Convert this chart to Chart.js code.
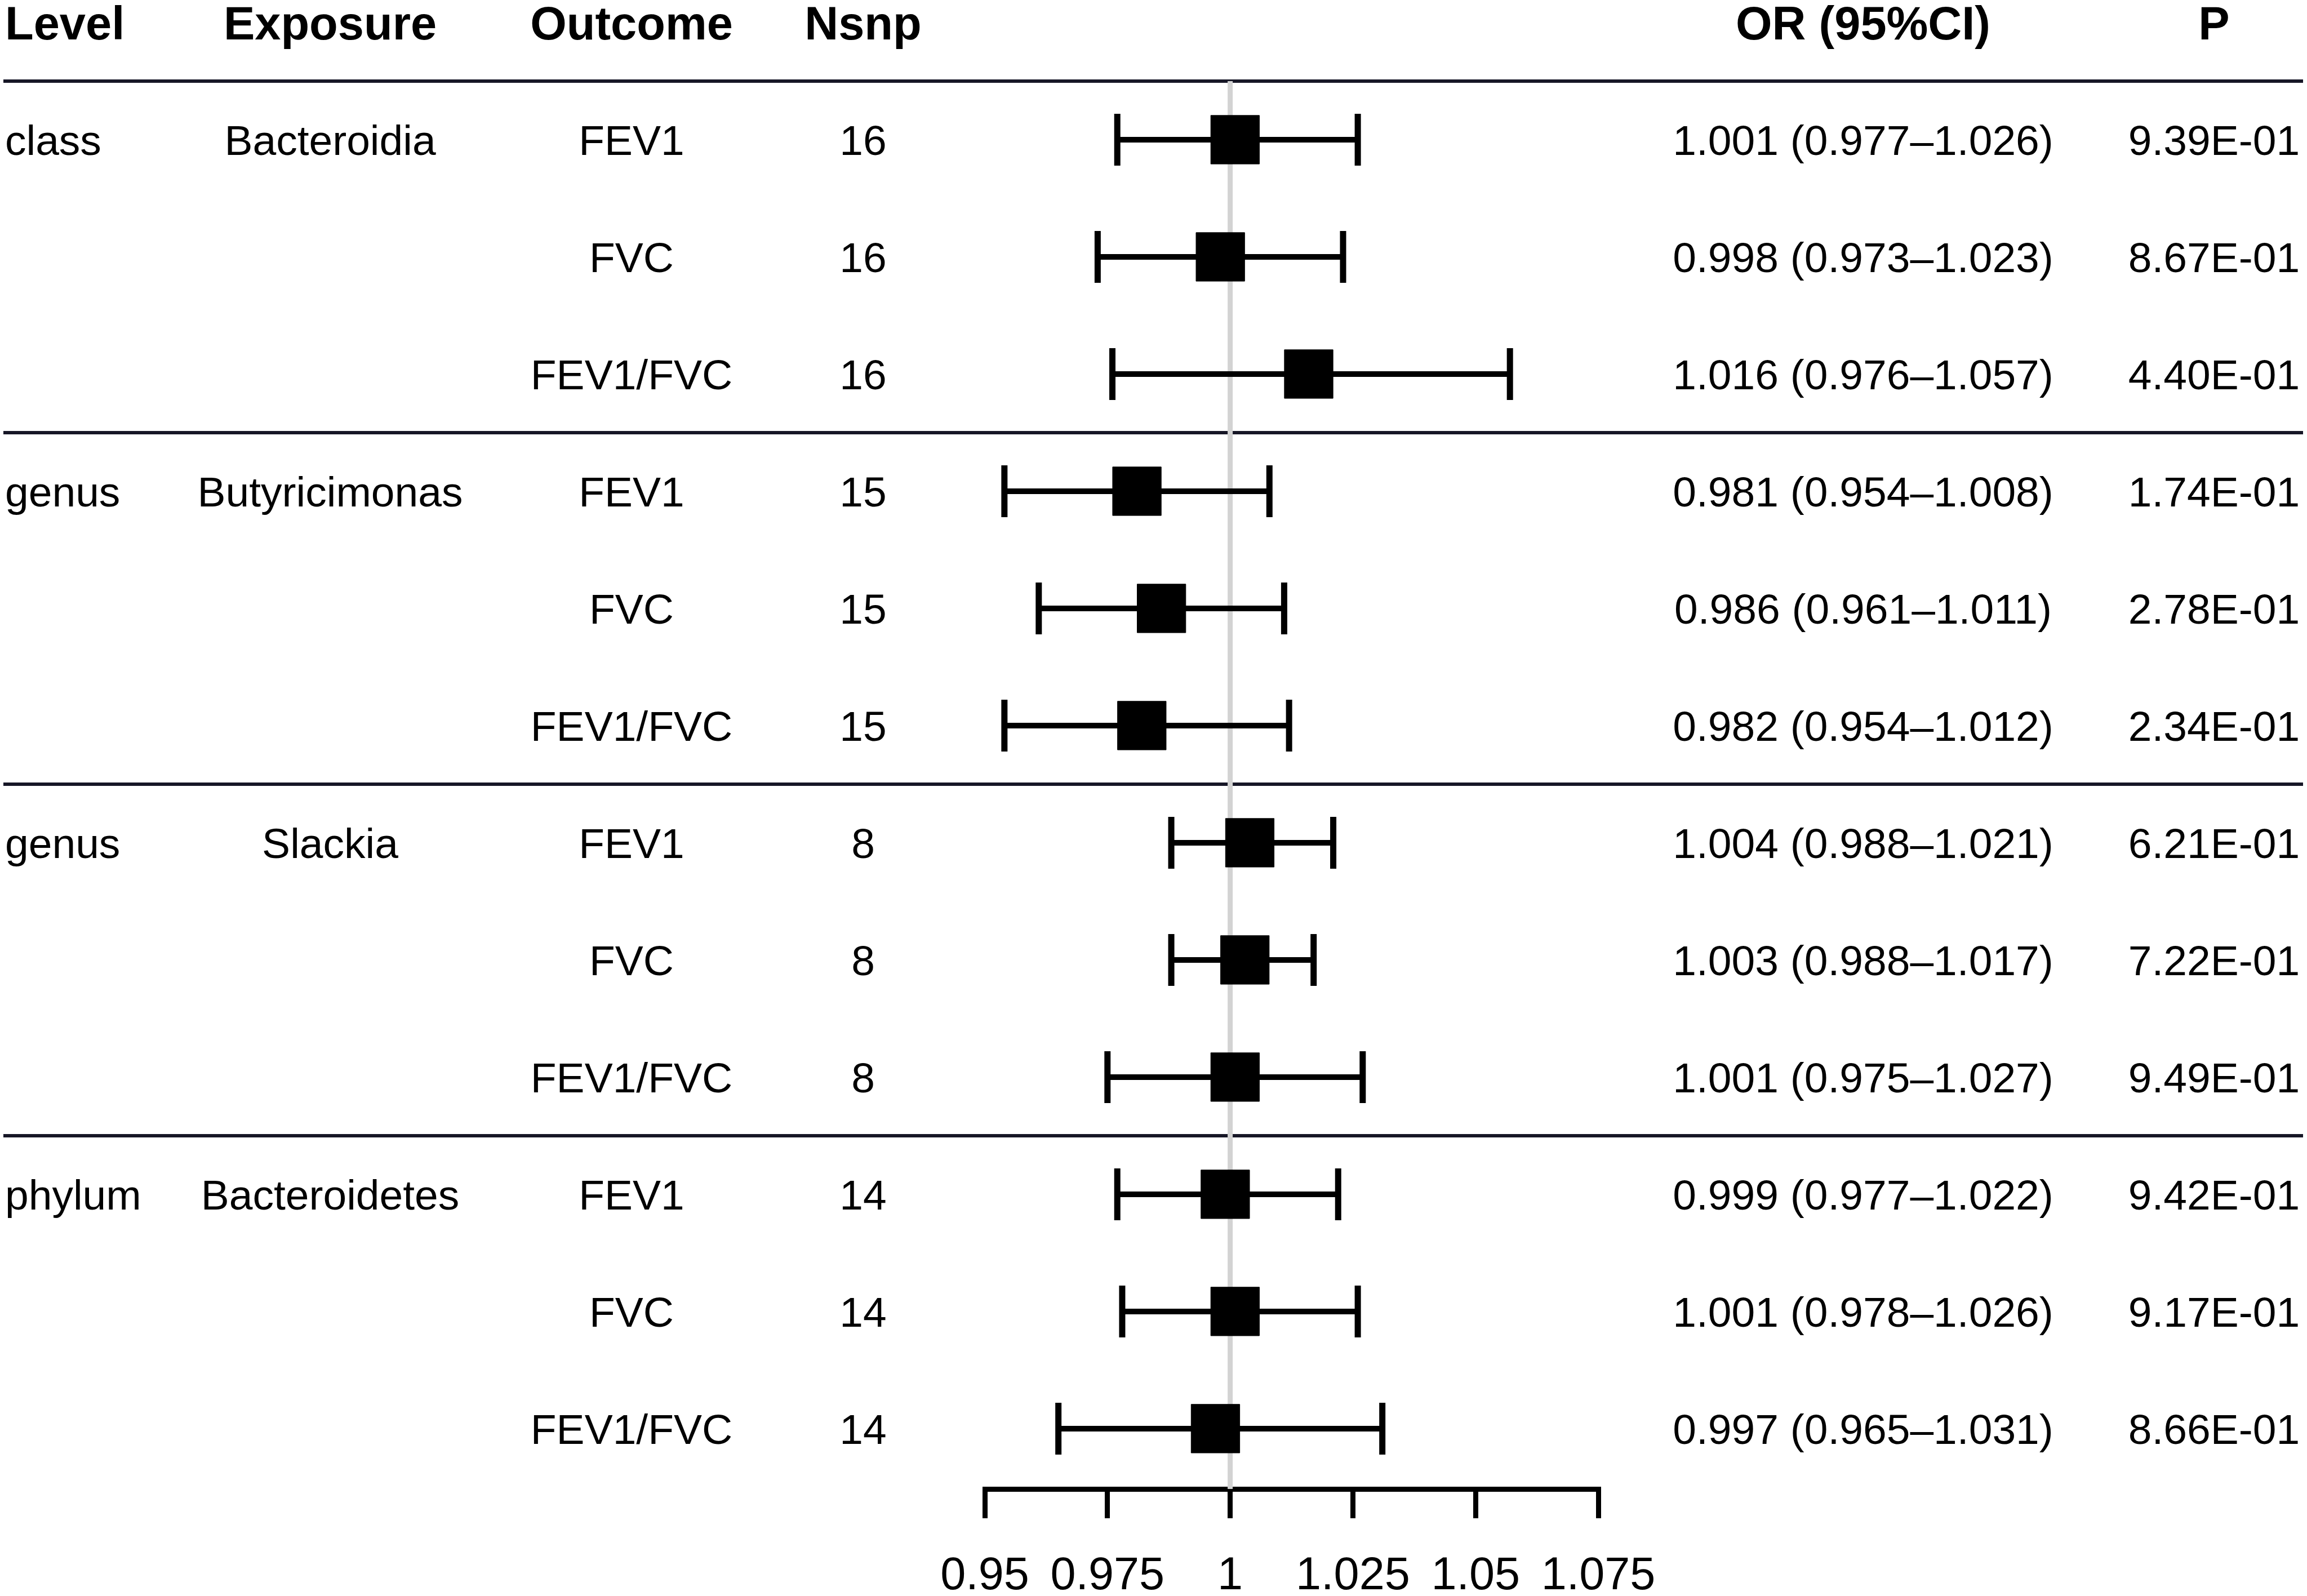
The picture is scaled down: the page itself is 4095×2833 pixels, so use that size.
<!DOCTYPE html>
<html>
<head>
<meta charset="utf-8">
<title>Forest plot</title>
<script src="https://cdn.jsdelivr.net/npm/chart.js@4.4.1/dist/chart.umd.min.js"></script>
<style>
    html, body { margin: 0; padding: 0; background: #ffffff; }
    canvas { display: block; }
</style>
</head>
<body>
<canvas id="forestChart" width="4095" height="2833" style="width:4095px;height:2833px"></canvas>
<script>
// table / plot data, one entry per row
const groupLevels = ['class', 'genus', 'genus', 'phylum'];
const groupExposures = ['Bacteroidia', 'Butyricimonas', 'Slackia', 'Bacteroidetes'];
const outcomes = ['FEV1', 'FVC', 'FEV1/FVC', 'FEV1', 'FVC', 'FEV1/FVC', 'FEV1', 'FVC', 'FEV1/FVC', 'FEV1', 'FVC', 'FEV1/FVC'];
const nsnp = [16, 16, 16, 15, 15, 15, 8, 8, 8, 14, 14, 14];
const orValues = [1.001, 0.998, 1.016, 0.981, 0.986, 0.982, 1.004, 1.003, 1.001, 0.999, 1.001, 0.997];
const ciLower = [0.977, 0.973, 0.976, 0.954, 0.961, 0.954, 0.988, 0.988, 0.975, 0.977, 0.978, 0.965];
const ciUpper = [1.026, 1.023, 1.057, 1.008, 1.011, 1.012, 1.021, 1.017, 1.027, 1.022, 1.026, 1.031];
const pValues = ['9.39E-01', '8.67E-01', '4.40E-01', '1.74E-01', '2.78E-01', '2.34E-01', '6.21E-01', '7.22E-01', '9.49E-01', '9.42E-01', '9.17E-01', '8.66E-01'];
const tickValues = [0.95, 0.975, 1, 1.025, 1.05, 1.075];
const tickLabels = ['0.95', '0.975', '1', '1.025', '1.05', '1.075'];
const headers = ['Level', 'Exposure', 'Outcome', 'Nsnp', 'OR (95%CI)', 'P'];

const FONT = "'Liberation Sans', Arial, sans-serif";
const rowsPerGroup = 3;
const rowIndex = outcomes.map((o, i) => i + 1);

// column layout: x position and alignment
const columns = [
    { x: 9, align: 'left' },
    { x: 586, align: 'center' },
    { x: 1121, align: 'center' },
    { x: 1532, align: 'center' },
    { x: 3307, align: 'center' },
    { x: 3930, align: 'center' }
];

function rowCells(i) {
    const first = i % rowsPerGroup === 0;
    const g = Math.floor(i / rowsPerGroup);
    return [
        first ? groupLevels[g] : '',
        first ? groupExposures[g] : '',
        outcomes[i],
        String(nsnp[i]),
        orValues[i].toFixed(3) + ' (' + ciLower[i].toFixed(3) + '\u2013' + ciUpper[i].toFixed(3) + ')',
        pValues[i]
    ];
}

const tablePlugin = {
    id: 'tablePlugin',
    beforeDatasetsDraw(chart) {
        const ctx = chart.ctx;
        const y = chart.scales.y;
        ctx.save();
        ctx.strokeStyle = '#161626';
        ctx.lineWidth = 6;
        const lineRows = [0.5];
        for (let g = 1; g < groupLevels.length; g++) lineRows.push(g * rowsPerGroup + 0.5);
        lineRows.forEach(r => {
            const py = y.getPixelForValue(r);
            ctx.beginPath();
            ctx.moveTo(6, py);
            ctx.lineTo(4088, py);
            ctx.stroke();
        });
        ctx.restore();
    },
    afterDraw(chart) {
        const ctx = chart.ctx;
        const y = chart.scales.y;
        ctx.save();
        ctx.fillStyle = '#000000';
        ctx.textBaseline = 'alphabetic';

        // header row
        ctx.font = 'bold 83px ' + FONT;
        const hy = y.getPixelForValue(0) + 83 * 0.358;
        headers.forEach((h, c) => {
            ctx.textAlign = columns[c].align;
            ctx.fillText(h, columns[c].x, hy);
        });

        // body rows
        ctx.font = '75px ' + FONT;
        outcomes.forEach((o, i) => {
            const py = y.getPixelForValue(rowIndex[i]) + 75 * 0.358;
            rowCells(i).forEach((txt, c) => {
                if (!txt) return;
                ctx.textAlign = columns[c].align;
                ctx.fillText(txt, columns[c].x, py);
            });
        });
        ctx.restore();
    }
};

const boxData = orValues.map((v, i) => ({ x: v, y: rowIndex[i] }));

const ciDatasets = orValues.map((v, i) => ({
    data: [{ x: ciLower[i], y: rowIndex[i] }, { x: ciUpper[i], y: rowIndex[i] }],
    showLine: true,
    borderColor: '#000000',
    borderWidth: 10,
    pointStyle: 'line',
    rotation: 90,
    pointRadius: 46,
    pointBorderWidth: 11,
    pointBorderColor: '#000000',
    pointBackgroundColor: '#000000'
}));

new Chart(document.getElementById('forestChart').getContext('2d'), {
    type: 'scatter',
    data: {
        datasets: [
            {
                data: boxData,
                pointStyle: 'rect',
                pointRadius: 61,
                backgroundColor: '#000000',
                borderColor: '#000000',
                borderWidth: 1
            },
            ...ciDatasets,
            {
                data: [{ x: 1, y: 0.5 }, { x: 1, y: 12.515 }],
                showLine: true,
                borderColor: '#d3d3d3',
                borderWidth: 9,
                pointRadius: 0
            }
        ]
    },
    options: {
        responsive: false,
        devicePixelRatio: 1,
        animation: false,
        events: [],
        layout: {
            autoPadding: false,
            padding: { left: 1748, right: 1258, top: 40, bottom: 0 }
        },
        plugins: {
            legend: { display: false },
            tooltip: { enabled: false }
        },
        scales: {
            x: {
                type: 'linear',
                min: 0.95,
                max: 1.075,
                afterBuildTicks(scale) {
                    scale.ticks = tickValues.map(v => ({ value: v }));
                },
                afterFit(scale) {
                    scale.height = 190;
                },
                ticks: {
                    callback: (v, i) => tickLabels[i],
                    color: '#000000',
                    padding: 55,
                    maxRotation: 0,
                    autoSkip: false,
                    font: { family: FONT, size: 81 }
                },
                grid: {
                    display: true,
                    drawOnChartArea: false,
                    drawTicks: true,
                    tickLength: 52,
                    lineWidth: 9,
                    color: '#000000'
                },
                border: { display: true, color: '#000000', width: 9 }
            },
            y: {
                type: 'linear',
                display: false,
                reverse: true,
                min: 0,
                max: 12.515
            }
        }
    },
    plugins: [tablePlugin]
});
</script>
</body>
</html>
